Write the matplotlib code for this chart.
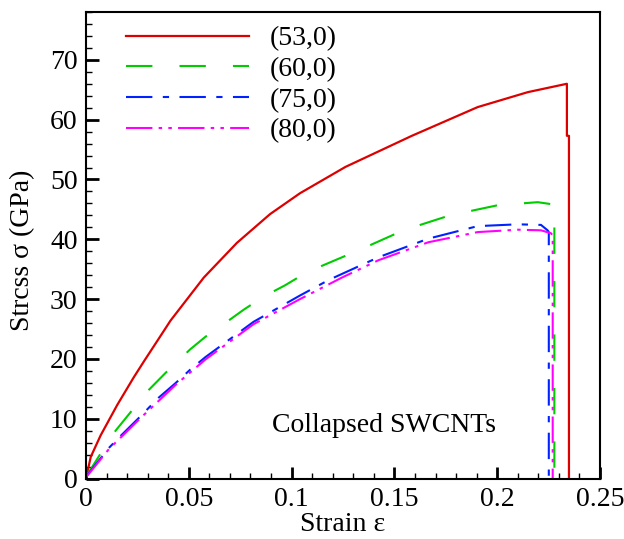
import matplotlib
matplotlib.use("Agg")
import matplotlib.pyplot as plt
from matplotlib.ticker import MultipleLocator, FormatStrFormatter

# stress-strain curves of collapsed SWCNTs
strain_53 = [0, 0.0023, 0.0071, 0.0152, 0.0232, 0.0282, 0.0377, 0.0411, 0.0573,
             0.0734, 0.0895, 0.1041, 0.1262, 0.1585, 0.1905, 0.2149, 0.2339,
             0.2339, 0.2349, 0.2349]
stress_53 = [0, 3.6, 7.2, 12.3, 16.9, 19.6, 24.6, 26.4, 33.6,
             39.4, 44.2, 47.7, 52.1, 57.3, 62.1, 64.6, 66.0,
             57.3, 57.3, 0]

strain_60 = [0, 0.0068, 0.0144, 0.0229, 0.0305, 0.0394, 0.0507, 0.0581, 0.0669,
             0.0766, 0.0863, 0.0968, 0.1075, 0.1342, 0.1544, 0.1770, 0.2004,
             0.2197, 0.2278, 0.2278]
stress_60 = [0.3, 4.0, 8.0, 11.6, 14.8, 17.9, 21.6, 23.7, 25.8,
             28.2, 30.4, 32.3, 34.5, 38.4, 41.5, 44.0, 45.7,
             46.2, 45.8, 0]

strain_75 = [0, 0.0111, 0.0168, 0.0265, 0.0353, 0.0434, 0.0507, 0.0581, 0.0815,
             0.1041, 0.1181, 0.1423, 0.1665, 0.1905, 0.2100, 0.2213, 0.2245,
             0.2251, 0.2251]
stress_75 = [0.3, 5.1, 7.1, 10.4, 13.5, 15.9, 18.2, 20.3, 26.2,
             30.6, 33.2, 37.0, 40.1, 42.2, 42.5, 42.4, 41.5,
             41.2, 0]

strain_80 = [0, 0.0111, 0.0265, 0.0434, 0.0581, 0.0815, 0.1041, 0.1245, 0.1423,
             0.1665, 0.1905, 0.2100, 0.2213, 0.2262, 0.2270, 0.2270]
stress_80 = [0.2, 4.9, 10.1, 15.6, 19.9, 25.8, 30.0, 33.6, 36.5,
             39.5, 41.2, 41.6, 41.5, 41.0, 40.6, 0]

labels = ["(53,0)", "(60,0)", "(75,0)", "(80,0)"]
colors = ["#dd0000", "#00cc00", "#0022ff", "#ff00ff"]

plt.rcParams["font.family"] = ["Liberation Serif", "DejaVu Serif"]
plt.rcParams["font.size"] = 20
plt.rcParams["lines.scale_dashes"] = False

fig = plt.figure(figsize=(6.24, 5.39), dpi=100)
ax = fig.add_axes([86 / 624, 1 - 478.5 / 539, 514 / 624, 466.5 / 539])

ax.plot(strain_53, stress_53, color=colors[0], lw=1.6, label=labels[0])
ax.plot(strain_60, stress_60, color=colors[1], lw=1.5, label=labels[1],
        dashes=(19, 19.5))
ax.plot(strain_75, stress_75, color=colors[2], lw=1.5, label=labels[2],
        dashes=(19, 7.5, 4.5, 7.5))
ax.plot(strain_80, stress_80, color=colors[3], lw=1.5, label=labels[3],
        dashes=(19, 4.5, 2.5, 4.5, 2.5, 4.5))

ax.set_xlim(0, 0.25)
ax.set_ylim(0, 78)
ax.xaxis.set_major_locator(MultipleLocator(0.05))
ax.xaxis.set_minor_locator(MultipleLocator(0.01))
ax.xaxis.set_major_formatter(FormatStrFormatter("%g"))
ax.yaxis.set_major_locator(MultipleLocator(10))
ax.yaxis.set_minor_locator(MultipleLocator(2))

ax.tick_params(which="both", direction="in", top=False, right=False)
ax.tick_params(which="major", length=9, width=2, pad=6)
ax.tick_params(which="minor", length=4.5, width=1)
for sp in ax.spines.values():
    sp.set_linewidth(1.5)

ax.set_xlabel("Strain ε")
ax.set_ylabel("Strcss σ (GPa)")
ax.xaxis.set_label_coords(0.5, -0.071)
ax.yaxis.set_label_coords(-0.099, 0.49)

ax.text(0.0905, 8.9, "Collapsed SWCNTs", fontsize=20, va="center", ha="left")

ax.legend(loc="upper left", bbox_to_anchor=(0.078, 0.970), frameon=False,
          borderpad=0, borderaxespad=0, handlelength=4.42, handletextpad=0.75,
          labelspacing=0.19, fontsize=20)

fig.savefig("out.png", dpi=100)
